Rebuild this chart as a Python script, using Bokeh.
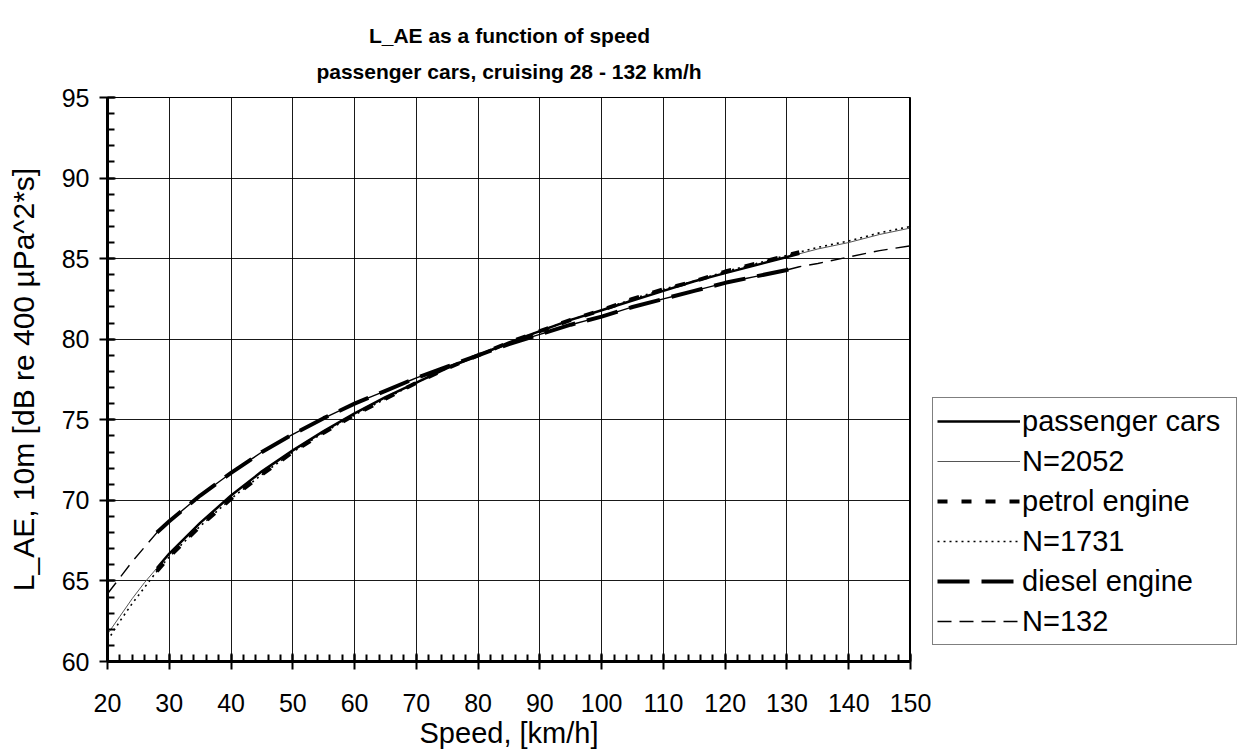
from bokeh.plotting import figure
from bokeh.layouts import row
from bokeh.models import (SingleIntervalTicker, Range1d, Legend, LegendItem,
                          Span, ColumnDataSource)
from bokeh.embed import file_html
from bokeh.resources import INLINE

# ---- data ----
speed = [20, 22, 24, 26, 28, 30, 35, 40, 45, 50, 55, 60, 65, 70, 75, 80, 85,
         90, 95, 100, 105, 110, 115, 120, 125, 130, 132, 135, 140, 145, 150]
all_cars = [61.7, 62.8, 63.9, 64.9, 65.8, 66.7, 68.6, 70.3, 71.8, 73.1, 74.3,
            75.4, 76.4, 77.3, 78.2, 79.0, 79.8, 80.5, 81.2, 81.8, 82.4, 83.0,
            83.6, 84.1, 84.6, 85.1, 85.3, 85.6, 86.0, 86.5, 86.9]
petrol = [61.3, 62.5, 63.6, 64.6, 65.6, 66.5, 68.4, 70.1, 71.6, 73.0, 74.2,
          75.3, 76.3, 77.3, 78.2, 79.0, 79.8, 80.5, 81.2, 81.8, 82.5, 83.1,
          83.6, 84.2, 84.7, 85.2, 85.4, 85.7, 86.1, 86.6, 87.0]
diesel = [64.2, 65.2, 66.2, 67.1, 68.0, 68.7, 70.3, 71.7, 73.0, 74.1, 75.1,
          76.0, 76.8, 77.6, 78.3, 79.0, 79.7, 80.3, 80.9, 81.4, 82.0, 82.5,
          83.0, 83.5, 83.9, 84.3, 84.5, 84.7, 85.1, 85.5, 85.8]
cruise_min, cruise_max = 28, 132
labels_thick = ["passenger cars", "petrol engine", "diesel engine"]
labels_thin = ["N=2052", "N=1731", "N=132"]
title_lines = ["L_AE as a function of speed", "passenger cars, cruising 28 - 132 km/h"]

FONT = "Liberation Sans"

# line styles shared by plot and legend
STY = {
    "n2052": dict(line_color="#555555", line_width=1),
    "n1731": dict(line_color="black", line_width=1.6, line_dash="2 4"),
    "n132": dict(line_color="black", line_width=1.4, line_dash="14 8"),
    "all": dict(line_color="black", line_width=2.5),
    "pet": dict(line_color="black", line_width=4, line_dash="10 14"),
    "die": dict(line_color="black", line_width=4, line_dash="32 12"),
}

full = ColumnDataSource(dict(x=speed, a=all_cars, p=petrol, d=diesel))
idx = [i for i, v in enumerate(speed) if cruise_min <= v <= cruise_max]
cruise = ColumnDataSource(dict(x=[speed[i] for i in idx],
                               a=[all_cars[i] for i in idx],
                               p=[petrol[i] for i in idx],
                               d=[diesel[i] for i in idx]))

p = figure(width=931, height=751, x_range=Range1d(20, 150), y_range=Range1d(60, 95),
           output_backend="svg", toolbar_location=None,
           min_border_left=107, min_border_right=21, min_border_top=97, min_border_bottom=90)
p.background_fill_color = "white"
p.border_fill_color = "white"
p.outline_line_color = "black"
p.outline_line_width = 1

# multi-line title; the text block is left-aligned, so the shorter first
# line is pushed right with non-breaking spaces to appear centred
p.title.text = "\u00a0" * 9 + title_lines[0] + "\n" + title_lines[1]
p.title.align = "center"
p.title.text_font = FONT
p.title.text_font_size = "21px"
p.title.text_font_style = "bold"
p.title.text_color = "black"
p.title.text_line_height = 1.6
p.title.standoff = 28

# axes
p.xaxis.ticker = SingleIntervalTicker(interval=10, num_minor_ticks=5)
p.yaxis.ticker = SingleIntervalTicker(interval=5, num_minor_ticks=5)
for ax in (p.xaxis[0], p.yaxis[0]):
    ax.axis_line_width = 3
    ax.axis_line_color = "black"
    ax.major_tick_line_color = "black"
    ax.major_tick_line_width = 2
    ax.minor_tick_line_color = "black"
    ax.minor_tick_line_width = 2
    ax.major_tick_in = 8
    ax.major_tick_out = 8
    ax.minor_tick_in = 7
    ax.minor_tick_out = 0
    ax.major_label_text_font = FONT
    ax.major_label_text_font_size = "25px"
    ax.major_label_text_color = "black"
    ax.axis_label_text_font = FONT
    ax.axis_label_text_font_size = "30px"
    ax.axis_label_text_font_style = "normal"
    ax.axis_label_text_color = "black"
p.xaxis.axis_label = "Speed, [km/h]"
p.yaxis.axis_label = "L_AE, 10m [dB re 400 \u00b5Pa^2*s]"
p.xaxis.axis_label_text_font_size = "29px"
p.xaxis.major_label_standoff = 24
p.xaxis.axis_label_standoff = 2
p.yaxis.major_label_standoff = 10
p.yaxis.axis_label_standoff = 19

p.xgrid.grid_line_color = "black"
p.ygrid.grid_line_color = "black"
p.xgrid.grid_line_width = 1
p.ygrid.grid_line_width = 1
p.xgrid.grid_line_alpha = 0.9
p.ygrid.grid_line_alpha = 0.9

p.add_layout(Span(location=150, dimension="height", line_color="black", line_width=3))

# thin full-range curves
p.line("x", "a", source=full, **STY["n2052"])
p.line("x", "p", source=full, **STY["n1731"])
p.line("x", "d", source=full, **STY["n132"])
# thick cruising-range curves
p.line("x", "a", source=cruise, **STY["all"])
p.line("x", "p", source=cruise, **STY["pet"])
p.line("x", "d", source=cruise, **STY["die"])

# ---- legend panel (separate canvas to the right of the plot) ----
pl = figure(width=307, height=751, x_range=Range1d(0, 1), y_range=Range1d(0, 1),
            output_backend="svg", toolbar_location=None,
            min_border_left=0, min_border_right=0, min_border_top=0, min_border_bottom=0)
pl.axis.visible = False
pl.grid.visible = False
pl.outline_line_color = None
pl.background_fill_color = "white"
pl.border_fill_color = "white"

nan = float("nan")
dummy = ColumnDataSource(dict(x=[nan, nan], y=[nan, nan]))
order = [("all", labels_thick[0]), ("n2052", labels_thin[0]),
         ("pet", labels_thick[1]), ("n1731", labels_thin[1]),
         ("die", labels_thick[2]), ("n132", labels_thin[2])]
items = []
for key, lab in order:
    r = pl.line("x", "y", source=dummy, **STY[key])
    items.append(LegendItem(label=lab, renderers=[r]))

legend = Legend(items=items, location=(1, 16))
legend.label_text_font = FONT
legend.label_text_font_size = "29px"
legend.label_text_color = "black"
legend.glyph_width = 83
legend.glyph_height = 20
legend.label_height = 38
legend.label_width = 210
legend.label_standoff = 2
legend.spacing = 2
legend.padding = 4
legend.margin = 0
legend.border_line_color = "black"
legend.border_line_width = 1
legend.background_fill_color = "white"
legend.background_fill_alpha = 1
pl.add_layout(legend, "center")

layout = row(p, pl, spacing=0)
open("out.html", "w").write(file_html(layout, INLINE))
